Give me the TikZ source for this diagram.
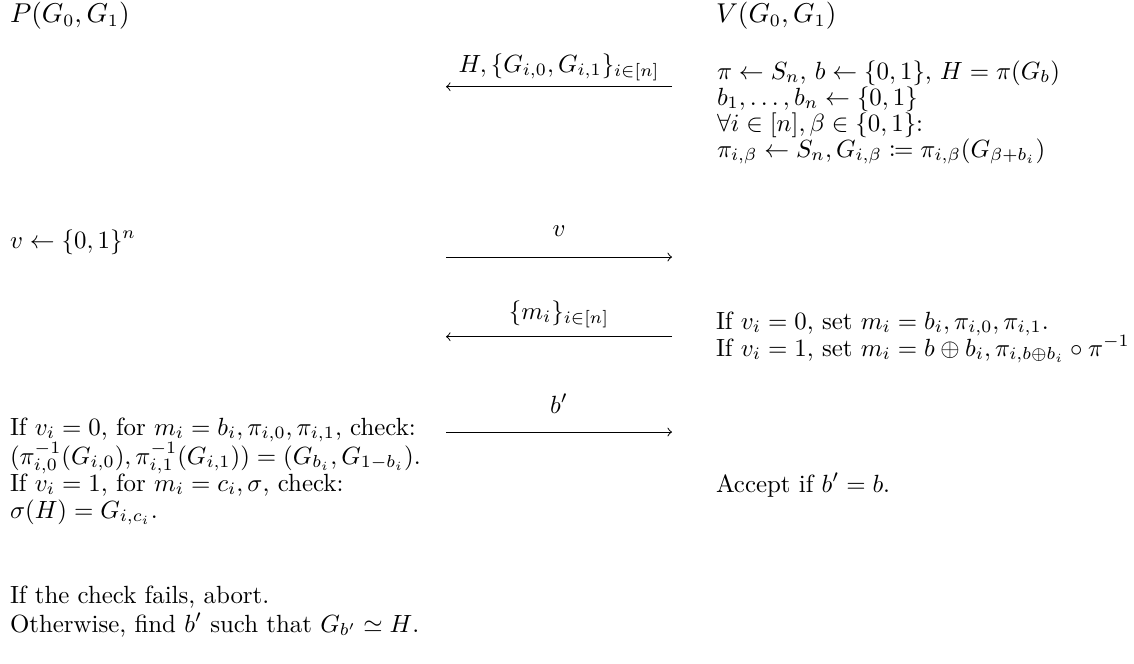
\documentclass[tikz,border=0pt]{standalone}
\usepackage{amsmath,amssymb,mathtools}
\begin{document}
\begin{tikzpicture}[x=0.402pt,y=-0.402pt,
  txt/.style={anchor=base west,inner sep=0pt,outer sep=0pt},
  party/.style={txt,font=\fontsize{10.5}{12}\selectfont},
  lbl/.style={anchor=base,inner sep=0pt,outer sep=0pt},
  msg/.style={->,line width=0.4pt}]
\useasboundingbox (0,0) rectangle (1134,663);
% parties
\node[party] (P) at (10,22) {$P(G_0,G_1)$};
\node[party] (V) at (716,22) {$V(G_0,G_1)$};
% message 1
\coordinate (m1l) at (446,86.7);
\coordinate (m1r) at (672,86.7);
\draw[msg] (m1r) -- (m1l);
\node[lbl] (l1) at (559,72) {$H,\{G_{i,0},G_{i,1}\}_{i\in[n]}$};
\node[txt] (r1) at (717,79) {$\pi\leftarrow S_n$, $b\leftarrow\{0,1\}$, $H=\pi(G_b)$};
\node[txt] (r2) at (717,105) {$b_1,\dots,b_n\leftarrow\{0,1\}$};
\node[txt] (r3) at (717,131) {$\forall i\in[n],\beta\in\{0,1\}$:};
\node[txt] (r4) at (717,157) {$\pi_{i,\beta}\leftarrow S_n,G_{i,\beta}\coloneqq\pi_{i,\beta}(G_{\beta+b_i})$};
% message 2
\node[txt] (p1) at (10,248) {$v\leftarrow\{0,1\}^n$};
\coordinate (m2l) at (446,257);
\coordinate (m2r) at (672,257);
\draw[msg] (m2l) -- (m2r);
\node[lbl] (l2) at (559,236) {$v$};
% message 3
\coordinate (m3l) at (446,336.7);
\coordinate (m3r) at (672,336.7);
\draw[msg] (m3r) -- (m3l);
\node[lbl] (l3) at (559,319) {$\{m_i\}_{i\in[n]}$};
\node[txt] (r5) at (716,329) {If $v_i=0$, set $m_i=b_i,\pi_{i,0},\pi_{i,1}$.};
\node[txt] (r6) at (716,356) {If $v_i=1$, set $m_i=b\oplus b_i,\pi_{i,b\oplus b_i}\circ\pi^{-1}$};
% message 4
\coordinate (m4l) at (446,432);
\coordinate (m4r) at (672,432);
\draw[msg] (m4l) -- (m4r);
\node[lbl] (l4) at (559,413) {$b'$};
\node[txt] (p2) at (10,435) {If $v_i=0$, for $m_i=b_i,\pi_{i,0},\pi_{i,1}$, check:};
\node[txt] (p3) at (10,464) {$(\pi_{i,0}^{-1}(G_{i,0}),\pi_{i,1}^{-1}(G_{i,1}))=(G_{b_i},G_{1-b_i})$.};
\node[txt] (p4) at (10,491) {If $v_i=1$, for $m_i=c_i,\sigma$, check:};
\node[txt] (p5) at (10,518) {$\sigma(H)=G_{i,c_i}$.};
\node[txt] (r7) at (716,492) {Accept if $b'=b$.};
\node[txt] (p6) at (10,603) {If the check fails, abort.};
\node[txt] (p7) at (10,632) {Otherwise, find $b'$ such that $G_{b'}\simeq H$.};
\end{tikzpicture}
\end{document}
